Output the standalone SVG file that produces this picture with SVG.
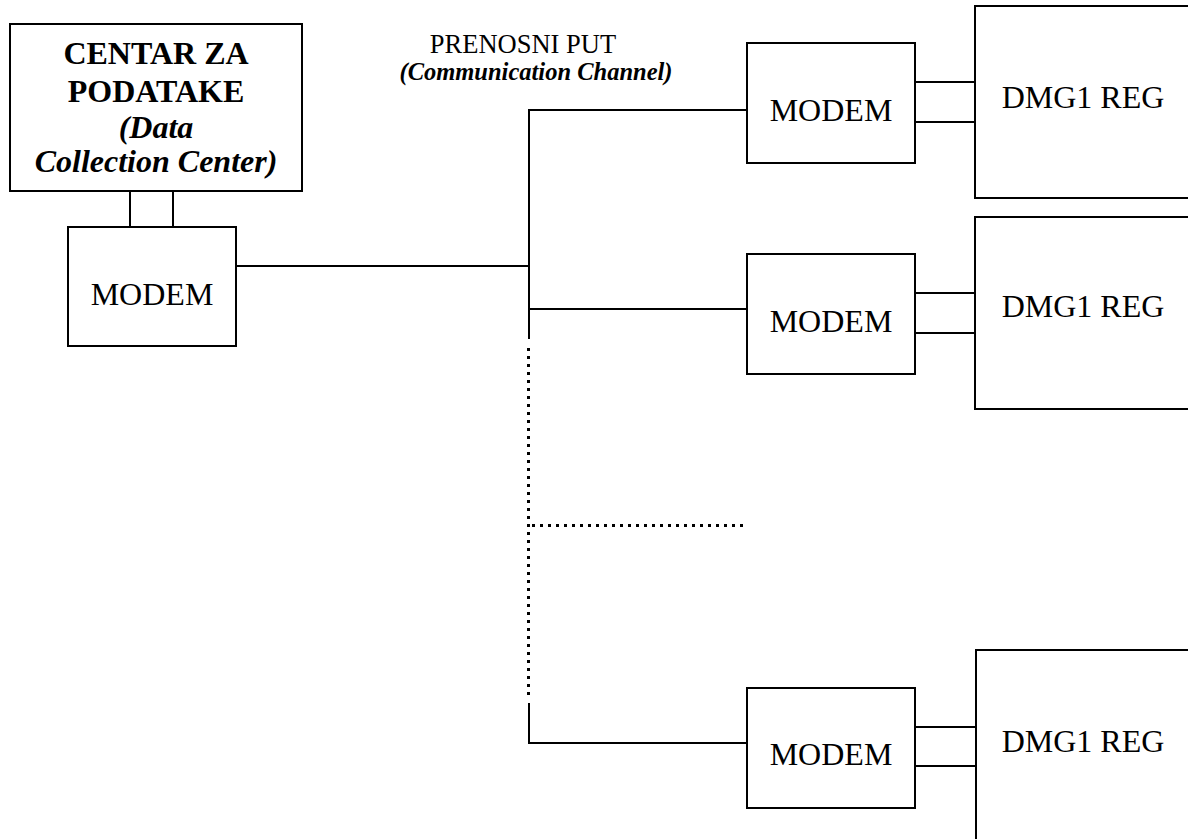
<svg xmlns="http://www.w3.org/2000/svg" width="1188" height="839" viewBox="0 0 1188 839">
<style>
.box{fill:#fff;stroke:#000;stroke-width:2}
.ln{fill:none;stroke:#000;stroke-width:2}
.dot{fill:none;stroke:#000;stroke-width:3;stroke-dasharray:3 5}
text{font-family:'Liberation Serif','Times New Roman','DejaVu Serif',serif;font-size:32px;fill:#000;text-anchor:middle}
.b{font-weight:bold}
.bi{font-weight:bold;font-style:italic}
</style>
<rect width="1188" height="839" fill="#fff"/>
<g id="connectors">
<line class="ln" x1="130" y1="191" x2="130" y2="227"/>
<line class="ln" x1="173" y1="191" x2="173" y2="227"/>
<polyline class="ln" points="236,266 529,266"/>
<polyline class="ln" points="747,110 529,110 529,339"/>
<line class="ln" x1="529" y1="309" x2="747" y2="309"/>
<line class="dot" x1="528.5" y1="348" x2="528.5" y2="700"/>
<line class="dot" x1="532" y1="525.5" x2="744" y2="525.5"/>
<polyline class="ln" points="529,703 529,743 747,743"/>
<line class="ln" x1="915" y1="82" x2="975" y2="82"/>
<line class="ln" x1="915" y1="122" x2="975" y2="122"/>
<line class="ln" x1="915" y1="293" x2="975" y2="293"/>
<line class="ln" x1="915" y1="333" x2="975" y2="333"/>
<line class="ln" x1="915" y1="727" x2="976" y2="727"/>
<line class="ln" x1="915" y1="766" x2="976" y2="766"/>
</g>
<g id="center">
<rect class="box" x="10" y="24" width="292" height="167"/>
<text class="b" x="156" y="64">CENTAR ZA</text>
<text class="b" x="156" y="102">PODATAKE</text>
<text class="bi" x="156" y="138">(Data</text>
<text class="bi" x="156" y="172">Collection Center)</text>
</g>
<g id="modem0">
<rect class="box" x="68" y="227" width="168" height="119"/>
<text x="152" y="305">MODEM</text>
</g>
<g id="channel-label">
<text x="523" y="53" style="font-size:26.5px">PRENOSNI PUT</text>
<text class="bi" x="536" y="80" style="font-size:24.5px">(Communication Channel)</text>
</g>
<g id="modem1">
<rect class="box" x="747" y="43" width="168" height="120"/>
<text x="831" y="121">MODEM</text>
</g>
<g id="reg1">
<rect class="box" x="975" y="6" width="260" height="192"/>
<text x="1083" y="108">DMG1 REG</text>
</g>
<g id="modem2">
<rect class="box" x="747" y="254" width="168" height="120"/>
<text x="831" y="332">MODEM</text>
</g>
<g id="reg2">
<rect class="box" x="975" y="217" width="260" height="192"/>
<text x="1083" y="317">DMG1 REG</text>
</g>
<g id="modem3">
<rect class="box" x="747" y="688" width="168" height="120"/>
<text x="831" y="765">MODEM</text>
</g>
<g id="reg3">
<rect class="box" x="976" y="650" width="260" height="240"/>
<text x="1083" y="752">DMG1 REG</text>
</g>
</svg>
